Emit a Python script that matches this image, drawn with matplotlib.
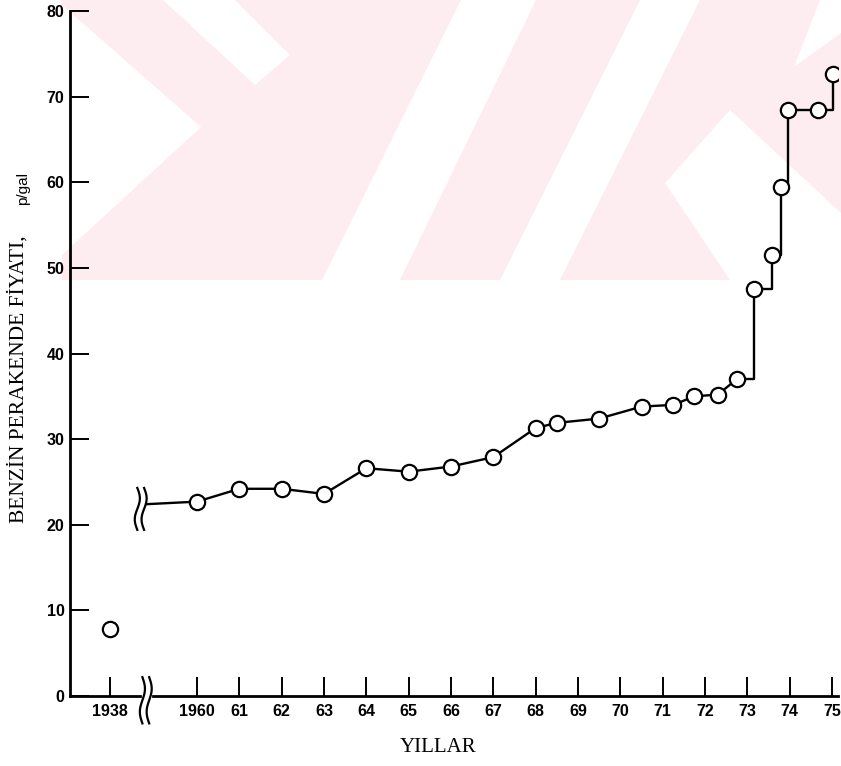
import numpy as np
import matplotlib.pyplot as plt
from matplotlib.patches import Polygon

# veriler (okunan degerler)
pre_year = [1938]
pre_price = [7.8]
years = [1960, 1961, 1962, 1963, 1964, 1965, 1966, 1967, 1968, 1968.5,
         1969.5, 1970.5, 1971.25, 1971.75, 1972.3, 1972.75]
prices = [22.7, 24.2, 24.2, 23.6, 26.6, 26.2, 26.8, 27.9, 31.3, 31.9,
          32.4, 33.8, 34.0, 35.0, 35.2, 37.0]
step_years = [1972.75, 1973.15, 1973.57, 1973.8, 1973.95, 1974.66, 1975.03]
step_prices = [37.0, 47.5, 51.5, 59.5, 68.4, 68.4, 72.7]
break_level = 22.4
xtick_years = [1938] + list(range(1960, 1976))
xtick_labels = ['1938', '1960'] + [str(y % 100) for y in range(1961, 1976)]
yticks = list(range(0, 81, 10))

# kirik eksen: 1938 yilini 1960 oncesine kaydir
pos_1938 = 1957.95
break_x = 1958.80


def xpos(y):
    return pos_1938 if y < 1950 else y


W, H = 841, 766
fig = plt.figure(figsize=(W / 100, H / 100), dpi=100)


def px(x, y):
    return (x / W, 1 - y / H)


# arka plandaki soluk pembe filigran (yaklasik)
pink = '#fdedf0'
fig.patches.append(Polygon([px(62, 0), px(841, 0), px(841, 280), px(62, 280)],
                           closed=True, transform=fig.transFigure,
                           facecolor=pink, edgecolor='none', zorder=-2))
white_shapes = [
    [(62, 5), (201, 127), (62, 255)],
    [(163, 0), (235, 0), (290, 55), (255, 85)],
    [(461, 0), (536, 0), (400, 280), (322, 280)],
    [(640, 0), (700, 0), (560, 280), (500, 280)],
    [(665, 183), (730, 110), (841, 213), (841, 280), (730, 280)],
    [(794, 67), (841, 33), (841, 0), (820, 0)],
]
for s in white_shapes:
    fig.patches.append(Polygon([px(*p) for p in s], closed=True,
                               transform=fig.transFigure, facecolor='white',
                               edgecolor='none', zorder=-1))

ax = fig.add_axes([70 / W, (H - 696) / H, (838 - 70) / W, (696 - 11) / H])
ax.set_facecolor('none')
ax.set_xlim(1957.0, 1975.14)
ax.set_ylim(0, 80)

lw = 1.7
mk = dict(marker='o', markersize=11, markerfacecolor='white',
          markeredgecolor='black', markeredgewidth=1.6)

ax.plot([xpos(y) for y in pre_year], pre_price, linestyle='none', **mk)
ax.plot([break_x] + years, [break_level] + prices, color='black', lw=lw)
ax.plot(step_years, step_prices, color='black', lw=lw, drawstyle='steps-post')
ax.plot(years, prices, linestyle='none', **mk)
ax.plot(step_years[1:], step_prices[1:], linestyle='none', **mk)

# eksenler
for sp in ['top', 'right', 'bottom']:
    ax.spines[sp].set_visible(False)
ax.spines['left'].set_linewidth(2)
ax.plot([1957.0, 1958.65], [0, 0], color='black', lw=2, clip_on=False)
ax.plot([1958.95, 1975.14], [0, 0], color='black', lw=2, clip_on=False)

tfont = dict(family='Liberation Sans', weight='bold', size=11.5)
ax.set_xticks([xpos(y) for y in xtick_years])
ax.set_xticklabels(xtick_labels, fontdict=tfont)
ax.set_yticks(yticks)
ax.set_yticklabels([str(v) for v in yticks], fontdict=tfont)
ax.tick_params(axis='both', direction='in', length=14, width=1.4)
ax.tick_params(axis='x', pad=6)
ax.tick_params(axis='y', pad=4)

# kirik isaretleri
t = np.linspace(0, 1, 60)
for dx in [-0.09, 0.07]:
    ax.plot(break_x + dx - 0.06 * np.sin(2 * np.pi * t), -3.2 + 5.4 * t,
            color='black', lw=1.6, clip_on=False)
    ax.plot(break_x - 0.12 + dx - 0.06 * np.sin(2 * np.pi * t), 19.4 + 4.9 * t,
            color='black', lw=1.6, clip_on=False)

fig.text(18 / W, (H - 523) / H, 'BENZİN PERAKENDE FİYATI,', rotation=90,
         ha='center', va='bottom', family='Liberation Serif', size=15.5)
fig.text(23 / W, (H - 172) / H, 'p/gal', rotation=90, ha='center', va='top',
         family='Liberation Sans', size=11)
fig.text(438 / W, (H - 748) / H, 'YILLAR', ha='center', va='center',
         family='Liberation Serif', size=15)

fig.savefig('out.png', dpi=100)
